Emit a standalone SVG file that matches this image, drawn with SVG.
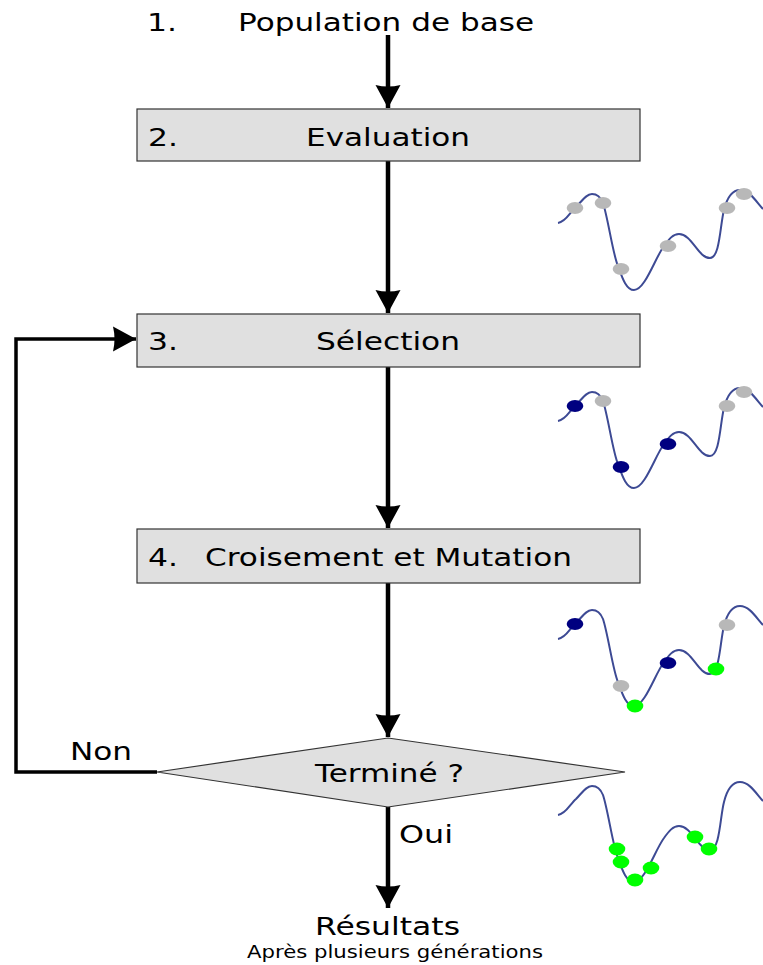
<svg xmlns="http://www.w3.org/2000/svg" width="763" height="965" viewBox="0 0 763 965">
<style>
text{font-family:"DejaVu Sans","Liberation Sans",sans-serif;fill:#000}
.t{font-size:24px}
.s{font-size:18px}
.box{fill:#e0e0e0;stroke:#333;stroke-width:1.2}
.conn{fill:none;stroke:#000;stroke-width:4.5}
.loop{fill:none;stroke:#000;stroke-width:3.5}
.curve{fill:none;stroke:#3d4a94;stroke-width:2}
.g{fill:#b8b8b8}.n{fill:#000080}.v{fill:#00ff00}
</style>
<defs>
<marker id="ah" markerUnits="userSpaceOnUse" markerWidth="30" markerHeight="30" refX="23" refY="12.5" orient="auto" viewBox="0 0 30 25">
<path d="M0,0 L23,12.5 L0,25 Q3,12.5 0,0 Z" fill="#000"/>
</marker>
<path id="cv" d="M558,223 C566,222 570,212 576,207 C582,201 586,194 592,194 C598,194 601,198 603,203 C608,218 613,255 618,266 C622,277 626,290 634,290 C645,290 655,258 664,246 C669,239 673,234 679,234 C692,234 698,258 710,258 C720,258 720,225 724,210 C727,198 732,190 740,190 C750,190 757,203 763,209"/>
</defs>

<g id="connectors">
<path class="conn" d="M388,35 V108" marker-end="url(#ah)"/>
<path class="conn" d="M388,161 V313" marker-end="url(#ah)"/>
<path class="conn" d="M388,367 V528" marker-end="url(#ah)"/>
<path class="conn" d="M388,583 V737" marker-end="url(#ah)"/>
<path class="conn" d="M388,807 V908" marker-end="url(#ah)"/>
<path class="loop" d="M157,772 H16 V339 H136" marker-end="url(#ah)"/>
</g>

<g id="start">
<text class="t" x="147" y="31" textLength="30" lengthAdjust="spacingAndGlyphs">1.</text>
<text class="t" x="238" y="31" textLength="296" lengthAdjust="spacingAndGlyphs">Population de base</text>
</g>

<g id="evaluation">
<rect class="box" x="137" y="109" width="503" height="52"/>
<text class="t" x="148" y="146" textLength="30" lengthAdjust="spacingAndGlyphs">2.</text>
<text class="t" x="306" y="146" textLength="164" lengthAdjust="spacingAndGlyphs">Evaluation</text>
</g>

<g id="selection">
<rect class="box" x="137" y="314" width="503" height="53"/>
<text class="t" x="148" y="350" textLength="30" lengthAdjust="spacingAndGlyphs">3.</text>
<text class="t" x="316" y="350" textLength="144" lengthAdjust="spacingAndGlyphs">Sélection</text>
</g>

<g id="croisement">
<rect class="box" x="137" y="529" width="503" height="54"/>
<text class="t" x="148" y="566" textLength="30" lengthAdjust="spacingAndGlyphs">4.</text>
<text class="t" x="205" y="566" textLength="367" lengthAdjust="spacingAndGlyphs">Croisement et Mutation</text>
</g>

<g id="termine">
<polygon class="box" points="388,738 625,772 388,807 157,772"/>
<text class="t" x="315" y="782" textLength="149" lengthAdjust="spacingAndGlyphs">Terminé ?</text>
</g>

<g id="labels">
<text class="t" x="70" y="760" textLength="62" lengthAdjust="spacingAndGlyphs">Non</text>
<text class="t" x="399" y="843" textLength="54" lengthAdjust="spacingAndGlyphs">Oui</text>
</g>

<g id="resultats">
<text class="t" x="315" y="935" textLength="145" lengthAdjust="spacingAndGlyphs">Résultats</text>
<text class="s" x="247" y="958" textLength="296" lengthAdjust="spacingAndGlyphs">Après plusieurs générations</text>
</g>

<g id="curve1">
<use href="#cv" class="curve"/>
<ellipse class="g" cx="575" cy="208" rx="8.3" ry="6"/>
<ellipse class="g" cx="603" cy="203" rx="8.3" ry="6"/>
<ellipse class="g" cx="621" cy="269" rx="8.3" ry="6"/>
<ellipse class="g" cx="668" cy="246" rx="8.3" ry="6"/>
<ellipse class="g" cx="727" cy="208" rx="8.3" ry="6"/>
<ellipse class="g" cx="744" cy="194" rx="8.3" ry="6"/>
</g>

<g id="curve2" transform="translate(0,198)">
<use href="#cv" class="curve"/>
<ellipse class="n" cx="575" cy="208" rx="8.3" ry="6"/>
<ellipse class="g" cx="603" cy="203" rx="8.3" ry="6"/>
<ellipse class="n" cx="621" cy="269" rx="8.3" ry="6"/>
<ellipse class="n" cx="668" cy="246" rx="8.3" ry="6"/>
<ellipse class="g" cx="727" cy="208" rx="8.3" ry="6"/>
<ellipse class="g" cx="744" cy="194" rx="8.3" ry="6"/>
</g>

<g id="curve3" transform="translate(0,416)">
<use href="#cv" class="curve"/>
<ellipse class="n" cx="575" cy="208" rx="8.3" ry="6"/>
<ellipse class="g" cx="621" cy="270" rx="8.3" ry="6"/>
<ellipse class="v" cx="635" cy="290" rx="8.3" ry="6.5"/>
<ellipse class="n" cx="668" cy="247" rx="8.3" ry="6"/>
<ellipse class="v" cx="716" cy="253" rx="8.3" ry="6.5"/>
<ellipse class="g" cx="727" cy="209" rx="8.3" ry="6"/>
</g>

<g id="curve4" transform="translate(0,592)">
<use href="#cv" class="curve"/>
<ellipse class="v" cx="617" cy="257" rx="8.3" ry="6.5"/>
<ellipse class="v" cx="621" cy="270" rx="8.3" ry="6.5"/>
<ellipse class="v" cx="635" cy="288" rx="8.3" ry="6.5"/>
<ellipse class="v" cx="651" cy="276" rx="8.3" ry="6.5"/>
<ellipse class="v" cx="695" cy="245" rx="8.3" ry="6.5"/>
<ellipse class="v" cx="709" cy="257" rx="8.3" ry="6.5"/>
</g>
</svg>
